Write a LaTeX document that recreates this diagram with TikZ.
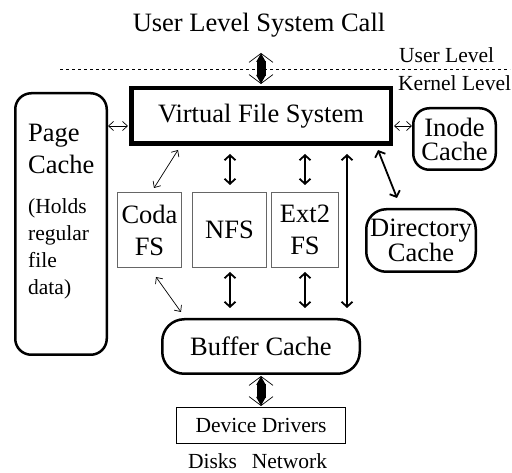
\documentclass[tikz,border=0pt]{standalone}
\usepackage{fontspec}
\setmainfont{Liberation Serif}
\usepackage{tikz}
\usetikzlibrary{arrows.meta,calc}

\newcommand{\bigfont}{\fontsize{26.5}{32}\selectfont}
\newcommand{\smallfont}{\fontsize{21.5}{27}\selectfont}

\begin{document}
\begin{tikzpicture}[x=1pt,y=-1pt,font=\bigfont]
                \tikzstyle{round box}=[draw,line width=2.5pt,rounded corners=16pt,inner sep=0]
                \tikzstyle{fs box}=[draw=black!60,line width=1pt,inner sep=0,align=center]
                \tikzstyle{thin arrow}=[line width=0.7pt,{Straight Barb[length=5pt,width=9pt]}-{Straight Barb[length=5pt,width=9pt]}]
                \tikzstyle{mid arrow}=[line width=1.8pt,{Straight Barb[length=5pt,width=11pt]}-{Straight Barb[length=5pt,width=11pt]}]
                \tikzstyle{big arrow}=[line width=0.7pt,{Straight Barb[length=9pt,width=24pt]}-{Straight Barb[length=9pt,width=24pt]},
                    postaction={draw,line width=9pt,{Triangle[length=9pt,width=9pt]}-{Triangle[length=9pt,width=9pt]}}]
                \useasboundingbox (0,0) rectangle (512,473);
                % levels
                \node(call)[anchor=base] at (259,32) {User Level System Call};
                \draw[line width=0.8pt,dash pattern=on 3pt off 3pt] (60,69) coordinate(dashl) -- (510,69) coordinate(dashr);
                \node(user)[anchor=base west,font=\smallfont,inner sep=0] at (399,63) {User Level};
                \node(kernel)[anchor=base west,font=\smallfont,inner sep=0] at (398,91) {Kernel Level};
                % boxes
                \node(vfs)[draw,line width=4.5pt,minimum width=259.5pt,minimum height=55.5pt] at (261,116) {Virtual File System};
                \node(page)[round box,minimum width=91.5pt,minimum height=261.5pt] at (61,224) {};
                \node(pagetxt)[anchor=north west,align=left,inner sep=0] at (28,124) {Page\\Cache};
                \node(pagenote)[anchor=north west,align=left,inner sep=0,font=\smallfont] at (28,198) {(Holds\\regular\\file\\data)};
                \node(inode)[round box,minimum width=82.5pt,minimum height=61.5pt,align=center,
                    font=\fontsize{26.5}{24}\selectfont] at (454.5,139) {Inode\\Cache};
                \node(dir)[round box,rounded corners=20pt,minimum width=109.5pt,minimum height=62.5pt,align=center,
                    font=\fontsize{26.5}{24}\selectfont] at (421,240.5) {Directory\\Cache};
                \node(coda)[fs box,minimum width=64pt,minimum height=75pt] at (149.5,230) {Coda\\FS};
                \node(nfs)[fs box,minimum width=74pt,minimum height=75pt] at (229.5,230) {NFS};
                \node(ext)[fs box,minimum width=67pt,minimum height=75pt] at (305,230) {Ext2\\FS};
                \node(buffer)[round box,rounded corners=22pt,minimum width=197.5pt,minimum height=54.5pt] at (261,346.5) {Buffer Cache};
                \node(dev)[draw,line width=1pt,minimum width=169pt,minimum height=36pt,font=\smallfont] at (261,425.5) {Device Drivers};
                \node(disks)[anchor=base,font=\smallfont,inner sep=0] at (212.5,468) {Disks};
                \node(net)[anchor=base,font=\smallfont,inner sep=0] at (289.5,468) {Network};
                % arrows
                \coordinate(top) at (261,53);
                \draw[big arrow] (top) -- ($(vfs.north)+(0,-2)$);
                \draw[big arrow] ($(buffer.south)+(0,1)$) -- ($(dev.north)+(0,-1)$);
                \coordinate(side) at (0,126);
                \draw[thin arrow] (page.east |- side) -- ($(vfs.west |- side)+(-1,0)$);
                \draw[thin arrow] ($(vfs.east |- side)+(1,0)$) -- (inode.west |- side);
                \draw[thin arrow] ($(coda.north)+(4.5,-4)$) -- ($(vfs.south)+(-83,4)$);
                \draw[thin arrow] ($(coda.south)+(6.5,9)$) -- ($(buffer.north west)+(20,-6)$);
                \draw[mid arrow] ($(nfs.north)+(0.5,-7)$) -- ($(nfs.north |- vfs.south)+(0.5,8)$);
                \draw[mid arrow] ($(nfs.south)+(0.5,4)$) -- ($(nfs.south |- buffer.north)+(0.5,-10)$);
                \draw[mid arrow] ($(ext.north)+(0,-7)$) -- ($(ext.north |- vfs.south)+(0,8)$);
                \draw[mid arrow] ($(ext.south)+(0,4)$) -- ($(ext.south |- buffer.north)+(0,-10)$);
                \draw[mid arrow] ($(vfs.south)+(86,8)$) -- ($(buffer.north)+(86,-10)$);
                \draw[mid arrow] ($(vfs.south east)+(-15,4)$) -- ($(dir.north)+(-24,-10)$);
            \end{tikzpicture}
\end{document}
